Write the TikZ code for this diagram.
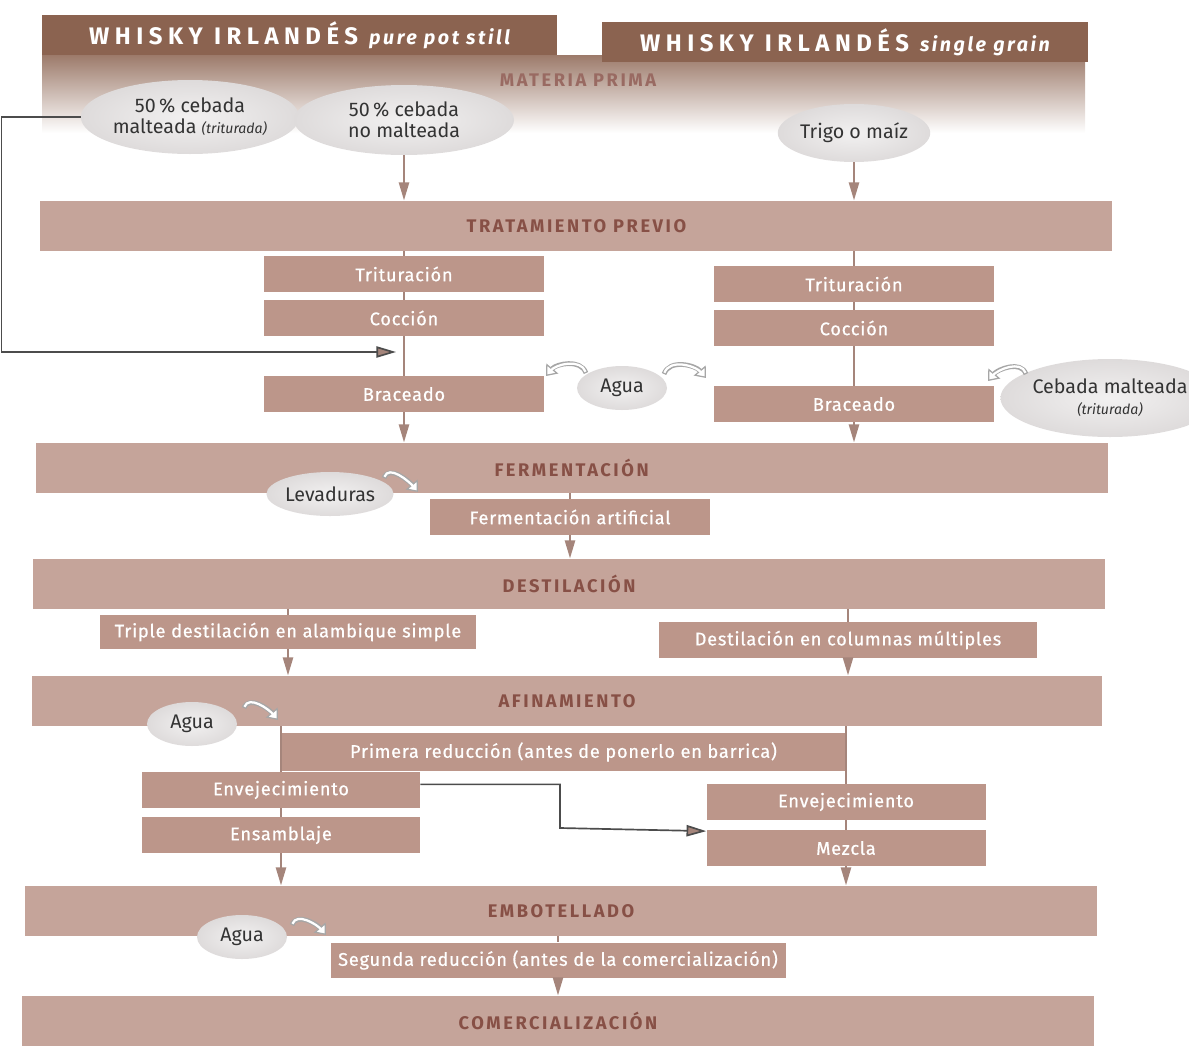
\documentclass[tikz,border=0pt]{standalone}
\usepackage{fontspec}
\setmainfont{Fira Sans}
\usepackage{tikz}
\usetikzlibrary{shapes.geometric,arrows.meta,positioning}

\definecolor{hdrbrown}{RGB}{139,99,80}
\definecolor{bandtan}{RGB}{197,164,154}
\definecolor{boxtan}{RGB}{188,150,138}
\definecolor{lblbrown}{RGB}{135,80,70}
\definecolor{cloudgrey}{RGB}{222,219,219}
\definecolor{flowline}{RGB}{165,133,123}

\begin{document}
\begin{tikzpicture}[
        every node/.style={font=\fontsize{13}{15}\selectfont},
        header/.style={rectangle, fill=hdrbrown, text=white, minimum height=1.0cm, inner sep=0pt, font=\fontsize{17}{19}\selectfont\bfseries\addfontfeature{LetterSpace=23}},
        band/.style={rectangle, fill=bandtan, minimum height=1.25cm, minimum width=26.8cm, inner sep=0pt, text=lblbrown, font=\fontsize{13}{15}\selectfont\bfseries\addfontfeature{LetterSpace=14}},
        stage/.style={rectangle, fill=boxtan, text=white, minimum width=7cm, minimum height=0.9cm, inner sep=0pt, font=\fontsize{13}{15}\selectfont\addfontfeature{LetterSpace=4,FakeBold=0.6}},
        bubble/.style={ellipse, inner color=white!60!cloudgrey, outer color=cloudgrey, text=black!80, align=center, inner sep=0pt, minimum width=2.25cm, minimum height=1.1cm, font=\fontsize{14}{15}\selectfont},
        flow/.style={draw=flowline, line width=2pt},
        arrow/.style={flow, -{Triangle[length=13pt, width=7pt]}},
        feed/.style={draw=black!70, line width=1.2pt, -{Triangle[length=14pt, width=8pt, fill=flowline]}},
        curl/.style={draw=gray!70, line width=3.4pt, -{Triangle[length=7pt, width=11pt, fill=white, line width=0.9pt]}, postaction={draw=white, line width=1.6pt, shorten >=5pt, shorten <=0.9pt, -}}
        ]
        \useasboundingbox (0,0) rectangle (29.725,-26.175);

        % raw material
        \node[band, top color=hdrbrown!85, bottom color=white, minimum width=26.075cm, minimum height=1.95cm] (materia) at (14.0875, -2.35) {};
        \node[text=lblbrown!85, font=\fontsize{13}{15}\selectfont\bfseries\addfontfeature{LetterSpace=14}] (materia-lbl) at (14.45, -2.0) {MATERIA PRIMA};
        \node[header, minimum width=12.875cm] (potstill) at (7.49, -0.875) {WHISKY IRLANDÉS {\itshape\fontsize{14}{16}\selectfont\addfontfeature{LetterSpace=13} pure pot still}};
        \node[header, minimum width=12.15cm] (grain) at (21.125, -1.05) {WHISKY IRLANDÉS {\itshape\fontsize{14}{16}\selectfont\addfontfeature{LetterSpace=13} single grain}};

        \node[bubble, minimum width=4.8cm, minimum height=1.85cm] (cebmalt) at (4.75, -2.925) {50\,\% cebada\\malteada {\itshape\fontsize{10}{12}\selectfont (triturada)}};
        \node[bubble, minimum width=5.5cm, minimum height=1.75cm] (cebnomalt) at (10.1, -3.0) {50\,\% cebada\\no malteada};
        \node[bubble, minimum width=3.2cm, minimum height=1.45cm] (trigo) at (21.35, -3.325) {Trigo o maíz};

        % pre-treatment
        \node[band] (trata) at (14.41, -5.65) {TRATAMIENTO PREVIO};
        \node[stage] (tritL) at (10.1, -6.85) {Trituración};
        \node[stage] (cocL) at (10.1, -7.95) {Cocción};
        \node[stage] (braL) at (10.1, -9.85) {Braceado};
        \node[stage] (tritR) at (21.35, -7.1) {Trituración};
        \node[stage] (cocR) at (21.35, -8.2) {Cocción};
        \node[stage] (braR) at (21.35, -10.1) {Braceado};
        \node[bubble] (agua1) at (15.55, -9.7) {Agua};
        \node[bubble, minimum width=4.1cm, minimum height=1.95cm] (cebtrit) at (27.75, -9.95) {Cebada malteada\\{\itshape\fontsize{10}{12}\selectfont (triturada)}};
        \coordinate (inL) at (9.9, -8.8);

        % fermentation
        \node[band] (ferm) at (14.29, -11.7) {FERMENTACIÓN};
        \node[bubble, minimum width=2.5cm, minimum height=1.1cm] (levad) at (8.25, -12.35) {Levaduras};
        \node[stage] (ferart) at (14.25, -12.925) {Fermentación artificial};

        % distillation
        \node[band] (dest) at (14.225, -14.6) {DESTILACIÓN};
        \node[stage, minimum width=9.4cm, minimum height=0.85cm] (triple) at (7.2, -15.8) {Triple destilación en alambique simple};
        \node[stage, minimum width=9.45cm] (colmul) at (21.2, -16.0) {Destilación en columnas múltiples};

        % refining
        \node[band, minimum width=26.75cm] (afin) at (14.175, -17.525) {AFINAMIENTO};
        \node[bubble] (agua2) at (4.8, -18.1) {Agua};
        \node[stage, minimum width=14.125cm, minimum height=0.95cm] (primera) at (14.0875, -18.8) {Primera reducción (antes de ponerlo en barrica)};
        \node[stage, minimum width=6.95cm] (envL) at (7.025, -19.75) {Envejecimiento};
        \node[stage, minimum width=6.95cm] (ensL) at (7.025, -20.875) {Ensamblaje};
        \node[stage, minimum width=6.975cm] (envR) at (21.15, -20.05) {Envejecimiento};
        \node[stage, minimum width=6.975cm] (mezcla) at (21.15, -21.2) {Mezcla};

        % bottling and sale
        \node[band] (embo) at (14.025, -22.775) {EMBOTELLADO};
        \node[bubble] (agua3) at (6.05, -23.425) {Agua};
        \node[stage, minimum width=11.375cm, minimum height=0.875cm] (segunda) at (13.95, -24.0) {Segunda reducción (antes de la comercialización)};
        \node[band] (comer) at (13.95, -25.525) {COMERCIALIZACIÓN};

        \draw[arrow] (cebnomalt) -- (cebnomalt |- trata.north);
        \draw[arrow] (trigo) -- (trigo |- trata.north);
        \draw[feed] (cebmalt.west) -- ++(-1.975, 0) |- (inL);

        \draw[flow] (tritL.north |- trata.south) -- (tritL);
        \draw[flow] (tritL) -- (cocL);
        \draw[flow] (cocL) -- (braL);
        \draw[arrow] (braL) -- (braL |- ferm.north);
        \draw[flow] (tritR.north |- trata.south) -- (tritR);
        \draw[flow] (tritR) -- (cocR);
        \draw[flow] (cocR) -- (braR);
        \draw[arrow] (braR) -- (braR |- ferm.north);

        \draw[flow] (ferart.north |- ferm.south) -- (ferart);
        \draw[arrow] (ferart) -- (ferart |- dest.north);

        \draw[flow] (triple.north |- dest.south) -- (triple);
        \draw[arrow] (triple) -- (triple |- afin.north);
        \draw[flow] (colmul.north |- dest.south) -- (colmul);
        \draw[arrow] (colmul) -- (colmul |- afin.north);

        \draw[flow] (envL.north |- afin.south) -- (envL);
        \draw[flow] (envL) -- (ensL);
        \draw[arrow] (ensL) -- (ensL |- embo.north);
        \draw[flow] (envR.north |- afin.south) -- (envR);
        \draw[flow] (envR) -- (mezcla);
        \draw[arrow] (mezcla) -- (mezcla |- embo.north);
        \draw[feed] ([yshift=4pt]envL.east) -| (14.0, -20.7) -- ([yshift=12pt]mezcla.west);

        \draw[flow] (segunda.north |- embo.south) -- (segunda);
        \draw[arrow] (segunda) -- (segunda |- comer.north);

        % small curled arrows for the additions
        \draw[curl] ([shift={(-0.9,0.375)}]agua1.center) to[out=110, in=50] ([shift={(-1.9,0.3)}]agua1.center);
        \draw[curl] ([shift={(1.05,0.35)}]agua1.center) to[out=70, in=130] ([shift={(2.1,0.25)}]agua1.center);
        \draw[curl] ([shift={(-2.1,0.6)}]cebtrit.center) to[out=110, in=50] ([shift={(-3.05,0.425)}]cebtrit.center);
        \draw[curl] ([shift={(1.35,0.4)}]levad.center) to[out=70, in=130] ([shift={(2.2,0.05)}]levad.center);
        \draw[curl] ([shift={(1.3,0.4)}]agua2.center) to[out=70, in=130] ([shift={(2.15,0.1)}]agua2.center);
        \draw[curl] ([shift={(1.25,0.3)}]agua3.center) to[out=70, in=130] ([shift={(2.1,0.05)}]agua3.center);
    \end{tikzpicture}
\end{document}
